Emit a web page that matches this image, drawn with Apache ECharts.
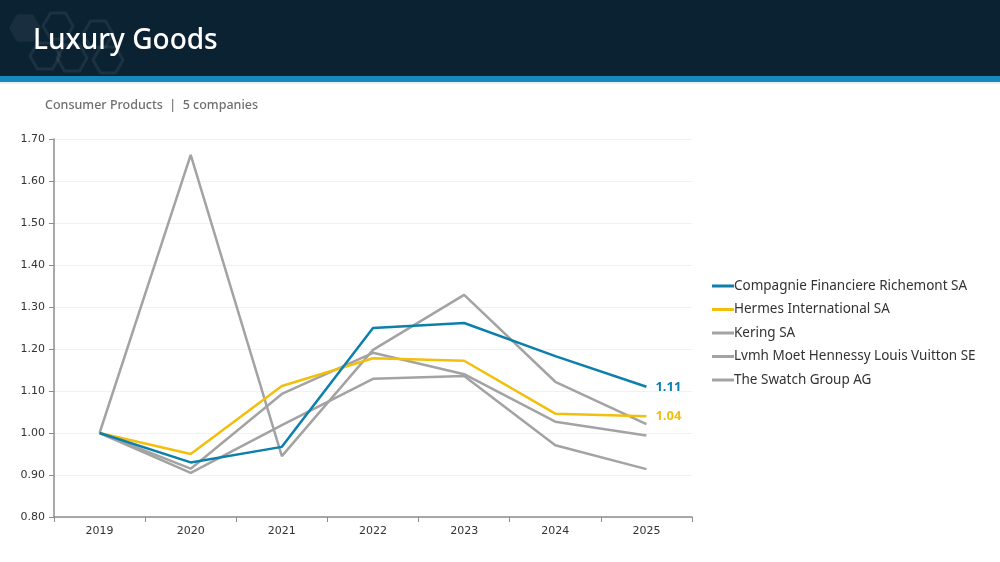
<!DOCTYPE html>
<html>
<head>
<meta charset="utf-8">
<title>Luxury Goods</title>
<script src="https://cdn.jsdelivr.net/npm/echarts@6/dist/echarts.min.js"></script>
<style>
  html, body { margin: 0; padding: 0; background: #fff; }
  #chart { width: 1000px; height: 562px; }
</style>
</head>
<body>
<div id="chart"></div>
<script>
const years = ['2019', '2020', '2021', '2022', '2023', '2024', '2025'];
const yTicks = [0.8, 1.7, 0.1]; // min, max, step

const richemont = [1.00, 0.93, 0.967, 1.25, 1.262, 1.183, 1.11];
const hermes = [1.00, 0.95, 1.112, 1.178, 1.172, 1.046, 1.04];
const kering = [1.00, 0.905, 1.019, 1.129, 1.136, 0.971, 0.914];
const lvmh = [1.00, 0.915, 1.093, 1.191, 1.140, 1.027, 0.994];
const swatch = [1.00, 1.662, 0.945, 1.198, 1.329, 1.122, 1.021];

const names = [
  'Compagnie Financiere Richemont SA',
  'Hermes International SA',
  'Kering SA',
  'Lvmh Moet Hennessy Louis Vuitton SE',
  'The Swatch Group AG'
];

const BLUE = '#0d7fab';
const YELLOW = '#f2bf0c';
const GREY = '#a3a3a3';

function makeSeries(name, data, color, showEnd) {
  return {
    name: name,
    type: 'line',
    data: data,
    symbol: 'none',
    lineStyle: { width: 2.5, color: color },
    itemStyle: { color: color },
    emphasis: { disabled: true },
    z: showEnd ? 5 : 3,
    endLabel: {
      show: showEnd,
      formatter: p => p.value.toFixed(2),
      color: color,
      fontWeight: 'bold',
      fontSize: 13,
      fontFamily: 'Noto Sans',
      distance: 9
    }
  };
}

// faint hexagons in header
function hex(cx, cy, r, filled) {
  const pts = [];
  for (let i = 0; i < 6; i++) {
    const a = i * Math.PI / 3;
    pts.push([cx + r * Math.cos(a), cy + r * Math.sin(a)]);
  }
  return {
    type: 'polygon',
    shape: { points: pts },
    style: filled
      ? { fill: 'rgba(255,255,255,0.06)', stroke: 'none' }
      : { fill: 'none', stroke: 'rgba(255,255,255,0.07)', lineWidth: 3 },
    silent: true
  };
}

const chart = echarts.init(document.getElementById('chart'));
chart.setOption({
  animation: false,
  backgroundColor: '#fff',
  graphic: [
    { type: 'rect', shape: { x: 0, y: 0, width: 1000, height: 76 }, style: { fill: '#0b2233' }, z: -10 },
    hex(25, 28, 16, true), hex(58, 26, 15, false), hex(45, 56, 15, false),
    hex(72, 58, 15, false), hex(98, 34, 15, false), hex(108, 60, 15, false),
    { type: 'rect', shape: { x: 0, y: 76, width: 1000, height: 6 }, style: { fill: '#1688bb' } },
    { type: 'rect', shape: { x: 0, y: 82, width: 1000, height: 2 }, style: { fill: '#e6f1f6' } },
    {
      type: 'text', left: 33, top: 27,
      style: { text: 'Luxury Goods', fill: '#ffffff', font: '500 28px "Noto Sans"' }
    },
    {
      type: 'text', left: 45, top: 99,
      style: { text: 'Consumer Products  |  5 companies', fill: '#6f6f6f', font: '500 12.5px "Noto Sans"' }
    }
  ],
  legend: {
    orient: 'vertical',
    left: 707,
    top: 274,
    itemWidth: 22,
    itemHeight: 3,
    itemGap: 9.5,
    icon: 'rect',
    textStyle: { color: '#333', fontSize: 13.5, fontFamily: 'Noto Sans', padding: [0, 0, 0, -5] },
    data: names
  },
  grid: { left: 54, right: 308, top: 139, bottom: 45 },
  xAxis: {
    type: 'category',
    data: years,
    boundaryGap: true,
    axisLine: { lineStyle: { color: '#8c8c8c', width: 1.5 } },
    axisTick: { show: true, length: 5, lineStyle: { color: '#8c8c8c' } },
    axisLabel: { color: '#333', fontSize: 11, fontFamily: 'DejaVu Sans', margin: 9 }
  },
  yAxis: {
    type: 'value',
    min: yTicks[0],
    max: yTicks[1],
    interval: yTicks[2],
    axisLine: { show: true, lineStyle: { color: '#8c8c8c', width: 1.5 } },
    axisTick: { show: true, length: 5, lineStyle: { color: '#8c8c8c' } },
    splitLine: { show: true, lineStyle: { color: '#f1f1f1' } },
    axisLabel: {
      color: '#333', fontSize: 11, fontFamily: 'DejaVu Sans', margin: 9,
      formatter: v => v.toFixed(2)
    }
  },
  series: [
    makeSeries(names[2], kering, GREY, false),
    makeSeries(names[3], lvmh, GREY, false),
    makeSeries(names[4], swatch, GREY, false),
    makeSeries(names[1], hermes, YELLOW, true),
    makeSeries(names[0], richemont, BLUE, true)
  ]
});
</script>
</body>
</html>
